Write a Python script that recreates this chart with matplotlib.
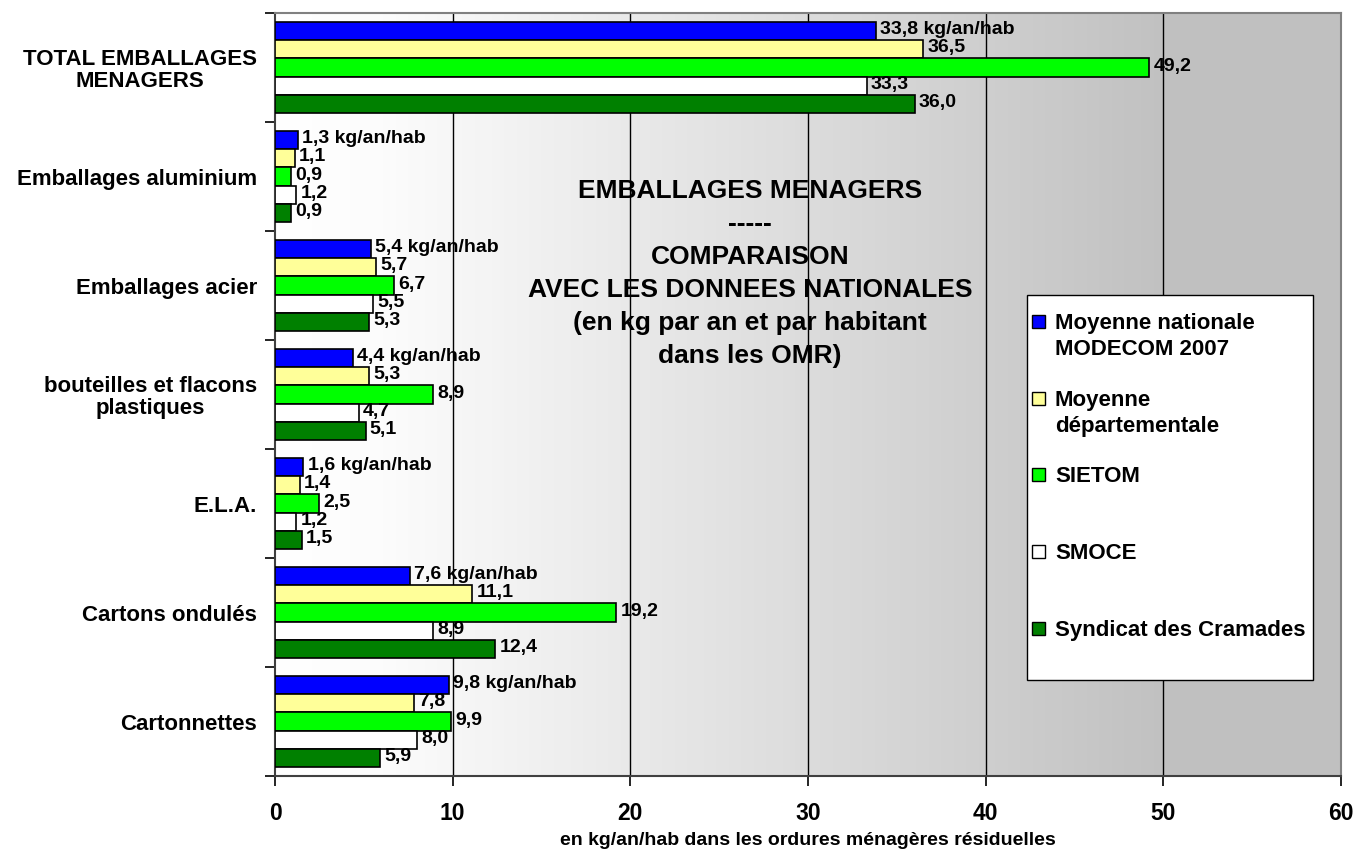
import numpy as np
import matplotlib
matplotlib.use("Agg")
import matplotlib.pyplot as plt
from matplotlib.colors import LinearSegmentedColormap
from matplotlib.patches import Rectangle

plt.rcParams["font.family"] = ["Liberation Sans", "DejaVu Sans"]
plt.rcParams["font.weight"] = "bold"

categories = ["TOTAL EMBALLAGES\nMENAGERS", "Emballages aluminium", "Emballages acier",
              "bouteilles et flacons\nplastiques", "E.L.A.", "Cartons ondulés", "Cartonnettes"]
series = ["Moyenne nationale\nMODECOM 2007", "Moyenne\ndépartementale", "SIETOM",
          "SMOCE", "Syndicat des Cramades"]
colors = ["#0000FF", "#FFFF99", "#00FF00", "#FFFFFF", "#008000"]

nationale = [33.8, 1.3, 5.4, 4.4, 1.6, 7.6, 9.8]
departement = [36.5, 1.1, 5.7, 5.3, 1.4, 11.1, 7.8]
sietom = [49.2, 0.9, 6.7, 8.9, 2.5, 19.2, 9.9]
smoce = [33.3, 1.2, 5.5, 4.7, 1.2, 8.9, 8.0]
cramades = [36.0, 0.9, 5.3, 5.1, 1.5, 12.4, 5.9]
values = [nationale, departement, sietom, smoce, cramades]

x_ticks = [0, 10, 20, 30, 40, 50, 60]
title = ("EMBALLAGES MENAGERS\n-----\nCOMPARAISON\nAVEC LES DONNEES NATIONALES\n"
         "(en kg par an et par habitant\ndans les OMR)")
xlabel = "en kg/an/hab dans les ordures ménagères résiduelles"

W, H = 1358, 850
AX_TOP, AX_BOT = 13, 776


def fy(py):
    # pixel (depuis le haut) -> fraction d'axe
    return 1 - (py - AX_TOP) / (AX_BOT - AX_TOP)


fig = plt.figure(figsize=(W / 100, H / 100), dpi=100)
ax = fig.add_axes([275 / W, 1 - AX_BOT / H, 1066 / W, (AX_BOT - AX_TOP) / H])

# fond en dégradé blanc -> gris
grad = LinearSegmentedColormap.from_list(
    "bg", [(0, "#FFFFFF"), (0.1, "#FCFCFC"), (0.85, "#C0C0C0"), (1, "#C0C0C0")])
ax.imshow(np.linspace(0, 1, 256).reshape(1, -1), cmap=grad, aspect="auto",
          extent=[0, 60, 6.5, -0.5], zorder=0)

y = np.arange(len(categories))
bar_h = 0.168
offsets = (np.arange(len(series)) - 2) * bar_h
for i, (vals, col) in enumerate(zip(values, colors)):
    ax.barh(y + offsets[i], vals, height=bar_h, color=col, edgecolor="black",
            linewidth=1.2, zorder=3)
    for yy, v in zip(y, vals):
        txt = f"{v:.1f}".replace(".", ",")
        if i == 0:
            txt += " kg/an/hab"
        ax.annotate(txt, (v, yy + offsets[i]), xytext=(3, 1), textcoords="offset points",
                    ha="left", va="center", fontsize=14, fontweight="bold", zorder=5)

ax.set_xlim(0, 60)
ax.set_ylim(6.5, -0.5)
ax.set_xticks(x_ticks)
ax.set_xticklabels([str(t) for t in x_ticks], fontsize=16.5, fontweight="bold")
ax.set_yticks(y)
ax.set_yticklabels(categories, fontsize=16, fontweight="bold", multialignment="center",
                   linespacing=1.05)
ax.set_yticks(np.arange(-0.5, 7, 1), minor=True)
ax.tick_params(axis="y", which="major", length=0, pad=13)
ax.tick_params(axis="y", which="minor", length=7, width=1.2, direction="out")
ax.tick_params(axis="x", length=7, width=1.2, direction="out", pad=12)
ax.set_xlabel(xlabel, fontsize=14, fontweight="bold", labelpad=5)

for gx in x_ticks[1:-1]:
    ax.axvline(gx, color="black", linewidth=1, zorder=1)

for side in ["top", "right"]:
    ax.spines[side].set_color("#808080")
    ax.spines[side].set_linewidth(1.5)
for side in ["left", "bottom"]:
    ax.spines[side].set_color("#404040")
    ax.spines[side].set_linewidth(1.5)

# titre dans la zone de tracé, une ligne par texte
title_cx = (750 - 275) / 1066
for k, line in enumerate(title.split("\n")):
    ax.text(title_cx, fy(188 + k * 33.2 + 9.5), line, transform=ax.transAxes,
            ha="center", va="baseline", fontsize=19, fontweight="bold", zorder=6)

# légende dessinée à la main (marqueurs alignés sur la première ligne)
ax.add_patch(Rectangle(((1027 - 275) / 1066, fy(680)), 286 / 1066, (680 - 295) / 763,
                       transform=ax.transAxes, facecolor="white", edgecolor="black",
                       linewidth=1, zorder=6))
entry_py = [321, 398, 474, 551, 628]
for lab, col, py in zip(series, colors, entry_py):
    ax.add_patch(Rectangle(((1032 - 275) / 1066, fy(py + 6.5)), 13 / 1066, 13 / 763,
                           transform=ax.transAxes, facecolor=col, edgecolor="black",
                           linewidth=1, zorder=7))
    for k, line in enumerate(lab.split("\n")):
        ax.text((1055 - 275) / 1066, fy(py + k * 26 + 8), line, transform=ax.transAxes,
                ha="left", va="baseline", fontsize=16, fontweight="bold", zorder=7)

fig.savefig("out.png", dpi=100)
